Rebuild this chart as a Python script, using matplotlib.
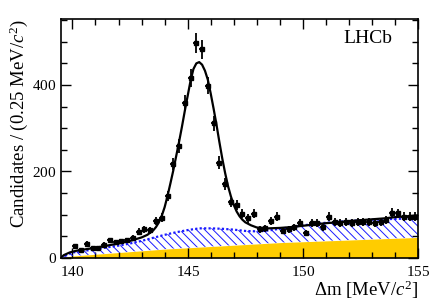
import numpy as np
import matplotlib
matplotlib.use('Agg')
import matplotlib.pyplot as plt
from matplotlib.ticker import MultipleLocator

plt.rcParams['font.family'] = ['Liberation Serif', 'DejaVu Serif']
plt.rcParams['mathtext.fontset'] = 'custom'
plt.rcParams['mathtext.rm'] = 'Liberation Serif'
plt.rcParams['mathtext.it'] = 'Liberation Serif:italic'
plt.rcParams['hatch.linewidth'] = 0.7

# -----------------------------
# data
# -----------------------------
bin_centres = [140.125, 140.375, 140.625, 140.875, 141.125, 141.375, 141.625, 141.875,
               142.125, 142.375, 142.625, 142.875, 143.125, 143.375, 143.625, 143.875,
               144.125, 144.375, 144.625, 144.875, 145.125, 145.375, 145.625, 145.875,
               146.125, 146.375, 146.625, 146.875, 147.125, 147.375, 147.625, 147.875,
               148.125, 148.375, 148.625, 148.875, 149.125, 149.375, 149.625, 149.875,
               150.125, 150.375, 150.625, 150.875, 151.125, 151.375, 151.625, 151.875,
               152.125, 152.375, 152.625, 152.875, 153.125, 153.375, 153.625, 153.875,
               154.125, 154.375, 154.625, 154.875]
counts = [26, 18, 32, 22, 23, 30, 40, 36,
          38, 40, 45, 60, 66, 64, 85, 93,
          143, 217, 258, 359, 416, 497, 483, 398,
          311, 220, 171, 128, 122, 102, 91, 102,
          66, 68, 86, 95, 62, 66, 70, 80,
          57, 80, 80, 70, 95, 83, 81, 83,
          80, 83, 83, 83, 80, 82, 87, 104,
          103, 95, 95, 95]

# total fit curve
fit_x = [139.5, 139.625, 139.75, 139.875, 140.0, 140.25, 140.5, 140.75, 141.0, 141.5,
         142.0, 142.5, 142.75, 143.0, 143.25, 143.5, 143.625, 143.75, 143.875, 144.0,
         144.125, 144.25, 144.375, 144.5, 144.625, 144.75, 144.875, 145.0, 145.125, 145.25,
         145.375, 145.5, 145.625, 145.75, 145.875, 146.0, 146.125, 146.25, 146.375, 146.5,
         146.625, 146.75, 146.875, 147.0, 147.125, 147.25, 147.375, 147.5, 147.75, 148.0,
         148.5, 149.0, 149.5, 150.0, 150.5, 151.0, 151.5, 152.0, 152.5, 153.0,
         153.5, 154.0, 154.5, 155.0]
fit_y = [0, 6, 9, 12, 14, 17, 19, 21, 23, 28,
         33, 39, 43, 47, 53, 63, 71, 82, 97, 117,
         143, 172, 202, 235, 268, 303, 340, 375, 410, 437,
         450, 453, 447, 433, 412, 380, 345, 308, 268, 230,
         196, 166, 142, 122, 107, 96, 88, 82, 75, 70,
         68, 69, 71, 74, 77, 80, 82, 85, 87, 89,
         91, 94, 96, 98]

# background components (stacked)
bkg_x = [139.5, 140.0, 140.5, 141.0, 141.5, 142.0, 142.5, 143.0, 143.5, 144.0,
         144.5, 145.0, 145.5, 146.0, 146.5, 147.0, 147.5, 148.0, 148.5, 149.0,
         149.5, 150.0, 150.5, 151.0, 151.5, 152.0, 153.0, 154.0, 155.0]
hatch_top = [0, 12, 16, 19, 24, 28, 33, 39, 46, 53,
             59, 64, 68, 68, 67, 65, 62, 61, 63, 67,
             71, 75, 78, 81, 83, 85, 88, 90, 91]
yellow_top = [0, 4, 6, 8, 10, 12, 14, 16, 18, 20,
              21.5, 23, 24.5, 26, 27.5, 29, 30.5, 32, 33.5, 35,
              36, 37, 38, 39, 40, 41, 43, 45, 47]

x_ticks = [140, 145, 150, 155]
y_ticks = [0, 200, 400]

# -----------------------------
# figure
# -----------------------------
fig = plt.figure(figsize=(4.32, 3.05), dpi=100)
ax = fig.add_axes([0.141, 0.155, 0.827, 0.783])

ax.fill_between(bkg_x, 0, yellow_top, color='#ffcc00', linewidth=0, zorder=1)
ax.fill_between(bkg_x, yellow_top, hatch_top, facecolor='none', edgecolor='#1a1aff',
                hatch='\\\\\\\\', linewidth=0, zorder=2)
ax.plot(bkg_x, hatch_top, color='#1a1aff', linestyle=(0, (1, 1)), linewidth=1.6, zorder=3)
ax.plot(fit_x, fit_y, color='black', linewidth=1.6, zorder=4)

err = np.sqrt(counts)
ax.errorbar(bin_centres, counts, yerr=err, xerr=0.125, fmt='s', color='black',
            markersize=2.2, elinewidth=1.3, capsize=0, zorder=5)

ax.set_xlim(139.5, 155)
ax.set_ylim(0, 553)

# italic numbers as in the ROOT style
ax.set_xticks(x_ticks, [r'$\mathit{%d}$' % t for t in x_ticks])
ax.set_yticks(y_ticks, [r'$\mathit{%d}$' % t for t in y_ticks])
ax.xaxis.set_minor_locator(MultipleLocator(1))
ax.yaxis.set_minor_locator(MultipleLocator(50))
ax.tick_params(which='both', direction='in', top=True, right=True, width=1.0)
ax.tick_params(which='major', length=7, labelsize=11)
ax.tick_params(axis='x', which='major', pad=5)
ax.tick_params(axis='y', which='major', pad=3)
ax.tick_params(which='minor', length=4)
for sp in ax.spines.values():
    sp.set_linewidth(1.2)

ax.set_xlabel(r'$\Delta$m [MeV/$c^2$]', fontsize=13.5, loc='right', labelpad=0)
ax.set_ylabel(r'Candidates / (0.25 MeV/$c^2$)', fontsize=13.5, loc='top', labelpad=2)

ax.text(0.927, 0.92, 'LHCb', transform=ax.transAxes, fontsize=14, ha='right', va='center')

fig.savefig('out.png', dpi=100)
